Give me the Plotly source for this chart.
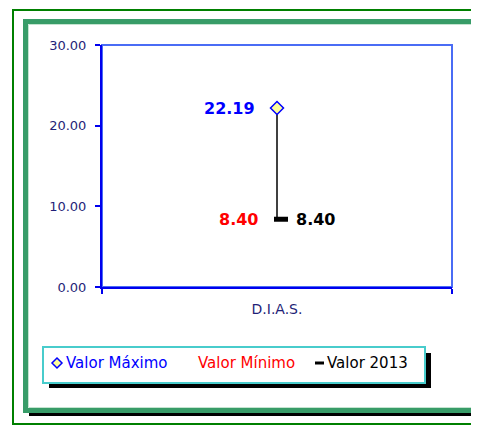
import plotly.graph_objects as go

# ---- data ----
categories = ["D.I.A.S."]
valor_maximo = [22.19]
valor_minimo = [8.40]
valor_2013 = [8.40]
y_ticks = [0, 10, 20, 30]
legend_labels = ["Valor Máximo", "Valor Mínimo", "Valor 2013"]

OFF = 8  # default page body margin
W_FIG, H_FIG = 479 - OFF, 426 - OFF
L, R, T, B = 102, 452, 45, 287  # plot area in page pixels
PW, PH = R - L, B - T


def px(x):
    return (x - L) / PW


def py(y):
    return (B - y) / PH


FONT = "DejaVu Sans"
NAVY = "#1f1f78"

fig = go.Figure()

# high-low line (max to min)
fig.add_trace(go.Scatter(
    x=[0, 0], y=[valor_maximo[0], valor_minimo[0]],
    mode="lines", line=dict(color="black", width=1.5),
    showlegend=False, hoverinfo="skip"))

# Valor Máximo
fig.add_trace(go.Scatter(
    x=[0], y=valor_maximo, mode="markers", name=legend_labels[0],
    marker=dict(symbol="diamond", size=10, color="#ffff99",
                line=dict(color="#0000ff", width=1.5)),
    showlegend=False))

# Valor Mínimo (no marker)
fig.add_trace(go.Scatter(
    x=[0], y=valor_minimo, mode="markers", name=legend_labels[1],
    marker=dict(size=1, color="rgba(0,0,0,0)"), showlegend=False))

# Valor 2013 (dash marker, slightly to the right)
fig.add_trace(go.Scatter(
    x=[0], y=valor_2013, mode="markers", name=legend_labels[2], xaxis="x2",
    marker=dict(symbol="line-ew", size=10, line=dict(color="black", width=5)),
    showlegend=False))

shift = 4 / PW

shapes = [
    # outer green border
    dict(type="rect", xref="paper", yref="paper", layer="below",
         x0=px(13), y0=py(10), x1=px(484), y1=py(424),
         line=dict(color="#008000", width=2), fillcolor="rgba(0,0,0,0)"),
    # frame shadow
    dict(type="rect", xref="paper", yref="paper", layer="below",
         x0=px(29), y0=py(25), x1=px(482), y1=py(416),
         line=dict(width=0), fillcolor="black"),
    # green frame
    dict(type="rect", xref="paper", yref="paper", layer="below",
         x0=px(25.5), y0=py(21.5), x1=px(475.5), y1=py(410.5),
         line=dict(color="#389c68", width=5), fillcolor="white"),
    dict(type="rect", xref="paper", yref="paper", layer="below",
         x0=px(28.5), y0=py(24.5), x1=px(472.5), y1=py(407.5),
         line=dict(color="#c4e4d0", width=1), fillcolor="rgba(0,0,0,0)"),
    # legend shadow
    dict(type="rect", xref="paper", yref="paper", layer="below",
         x0=px(49), y0=py(353), x1=px(431), y1=py(388),
         line=dict(width=0), fillcolor="black"),
    # legend box
    dict(type="rect", xref="paper", yref="paper", layer="below",
         x0=px(43), y0=py(347), x1=px(425), y1=py(383),
         line=dict(color="#48cccc", width=2), fillcolor="white"),
    # plot frame (light blue top/right)
    dict(type="rect", xref="paper", yref="paper", layer="below",
         x0=0, y0=0, x1=1, y1=1,
         line=dict(color="#4a6cf5", width=2), fillcolor="rgba(0,0,0,0)"),
    # legend symbols
    dict(type="path", xref="paper", yref="paper", layer="above",
         path=f"M {px(57)} {py(358)} L {px(62)} {py(363)} L {px(57)} {py(368)} L {px(52)} {py(363)} Z",
         line=dict(color="#0000ff", width=1.5), fillcolor="#ffff99"),
    dict(type="line", xref="paper", yref="paper", layer="above",
         x0=px(315), y0=py(363), x1=px(324), y1=py(363),
         line=dict(color="black", width=3)),
]

annotations = [
    dict(x=0, y=valor_maximo[0], xref="x", yref="y", text=f"<b>{valor_maximo[0]:.2f}</b>",
         showarrow=False, xanchor="right", yanchor="middle", xshift=-20,
         font=dict(family=FONT, size=16, color="#0000ff")),
    dict(x=0, y=valor_minimo[0], xref="x", yref="y", text=f"<b>{valor_minimo[0]:.2f}</b>",
         showarrow=False, xanchor="right", yanchor="middle", xshift=-17,
         font=dict(family=FONT, size=16, color="#ff0000")),
    dict(x=0, y=valor_2013[0], xref="x", yref="y", text=f"<b>{valor_2013[0]:.2f}</b>",
         showarrow=False, xanchor="left", yanchor="middle", xshift=17,
         font=dict(family=FONT, size=16, color="black")),
    dict(x=px(64), y=py(363), xref="paper", yref="paper", text=legend_labels[0],
         showarrow=False, xanchor="left", yanchor="middle",
         font=dict(family=FONT, size=15, color="#0000ff")),
    dict(x=px(196), y=py(363), xref="paper", yref="paper", text=legend_labels[1],
         showarrow=False, xanchor="left", yanchor="middle",
         font=dict(family=FONT, size=15, color="#ff0000")),
    dict(x=px(325), y=py(363), xref="paper", yref="paper", text=legend_labels[2],
         showarrow=False, xanchor="left", yanchor="middle",
         font=dict(family=FONT, size=15, color="black")),
]

fig.update_layout(
    width=W_FIG, height=H_FIG,
    margin=dict(l=L - OFF, r=W_FIG - (R - OFF), t=T - OFF, b=H_FIG - (B - OFF), pad=0),
    paper_bgcolor="white", plot_bgcolor="rgba(0,0,0,0)",
    showlegend=False,
    shapes=shapes, annotations=annotations,
    xaxis=dict(range=[-0.5, 0.5], tickvals=[0], ticktext=categories, ticks="",
               showgrid=False, zeroline=False, showline=True,
               linecolor="#0000ee", linewidth=2,
               minor=dict(tickvals=[-0.5, 0.5], ticks="outside", ticklen=5,
                          tickcolor="#0000ee", tickwidth=1.5),
               ticklabelstandoff=8,
               tickfont=dict(family=FONT, size=14, color=NAVY)),
    xaxis2=dict(range=[-0.5 - shift, 0.5 - shift], overlaying="x", visible=False),
    yaxis=dict(range=[0, 30], tickvals=y_ticks, tickformat=".2f",
               ticks="outside", ticklen=5, tickcolor="#0000ee", tickwidth=1.5,
               showgrid=False, zeroline=False, showline=True,
               linecolor="#0000ee", linewidth=2,
               ticklabelstandoff=6,
               tickfont=dict(family=FONT, size=13, color=NAVY)),
)

fig.write_html("out.html")
